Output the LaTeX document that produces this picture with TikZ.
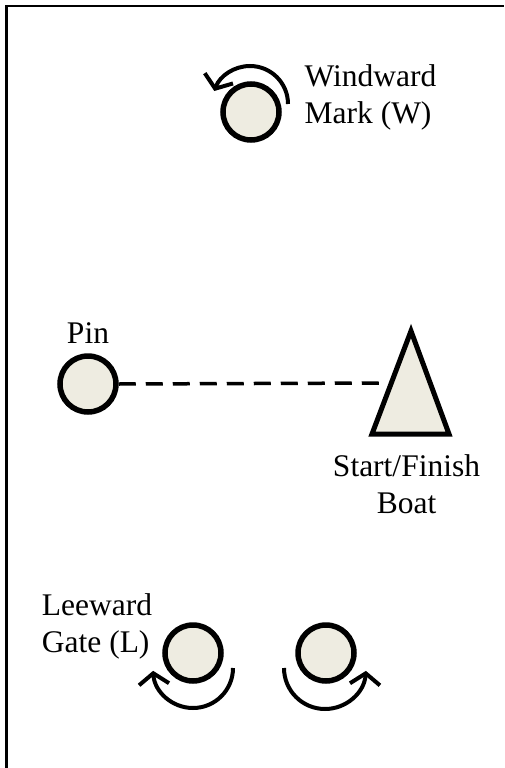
\documentclass[tikz,border=0pt]{standalone}
\usepackage{fontspec}
\setmainfont{Liberation Serif}
\usetikzlibrary{arrows.meta}
\definecolor{buoy}{HTML}{EEECE1}
\tikzset{
  buoymark/.style={circle, draw=black, line width=5.5pt, fill=buoy, minimum size=56pt, inner sep=0pt},
  boat/.style={draw=black, line width=5pt, fill=buoy, line join=miter},
  lbl/.style={font=\fontsize{31.5}{37}\selectfont, inner sep=0pt},
  rounding/.style={line width=4pt, -{Straight Barb[length=11pt,width=30pt,line width=4pt]}},
  startline/.style={line width=3.5pt, dash pattern=on 17pt off 10pt}
}
\begin{document}
\begin{tikzpicture}[x=1pt,y=-1pt]
\useasboundingbox (0,0) rectangle (504,768);
% border (top and left only)
\draw[line width=2.5pt] (6.5,768) -- (6.5,6) -- (504,6);
% windward mark
\node[buoymark] (W) at (251,112) {};
\draw[rounding] (288,104) arc[start angle=0, end angle=-160, radius=38];
\node[lbl, align=left, anchor=center] (Wl) at (370.5,97) {Windward\\Mark (W)};
% pin
\node[buoymark] (P) at (88,384) {};
\node[lbl, anchor=base] (Pl) at (88,343) {Pin};
% boat
\coordinate (apex) at (411,331);
\coordinate (bl) at (372,434);
\coordinate (br) at (449,434);
\draw[boat] (apex) -- (br) -- (bl) -- cycle;
\coordinate (lineend) at (388,383);
\draw[startline] (P.east) -- (lineend);
\node[lbl, align=center, anchor=center] (Bl) at (406.5,484) {Start/Finish\\Boat};
% leeward gate
\node[buoymark] (G1) at (193,653) {};
\node[buoymark] (G2) at (326,653) {};
\draw[rounding] (233,668) arc[start angle=0, end angle=176, radius=40];
\draw[rounding] (284,668) arc[start angle=180, end angle=4, radius=41];
\node[lbl, align=left, anchor=center] (Ll) at (97,626) {Leeward\\Gate (L)};
\end{tikzpicture}
\end{document}
